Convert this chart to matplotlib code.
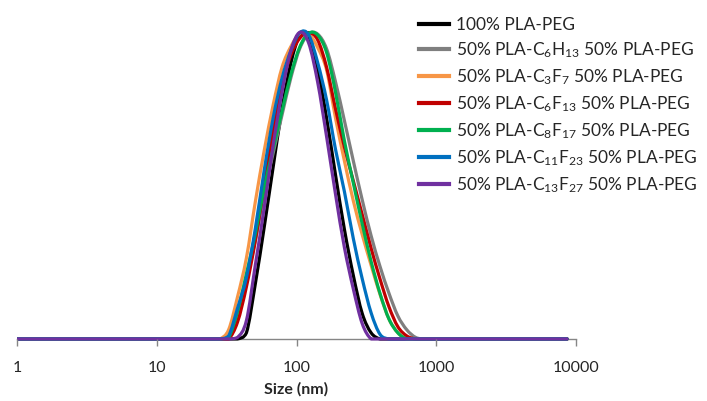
import numpy as np
import matplotlib
matplotlib.use("Agg")
import matplotlib.pyplot as plt
from matplotlib.path import Path
from matplotlib.patches import PathPatch
from matplotlib.lines import Line2D
from matplotlib.ticker import FixedLocator, FixedFormatter

plt.rcParams['font.family'] = ['Lato', 'DejaVu Sans']
plt.rcParams['mathtext.default'] = 'regular'

# DLS size classes (nm)
sizes = [0.9649, 1.117, 1.294, 1.499, 1.736, 2.010, 2.328, 2.696, 3.122, 3.615,
         4.187, 4.849, 5.615, 6.503, 7.531, 8.721, 10.10, 11.70, 13.54, 15.69,
         18.17, 21.04, 24.36, 28.21, 32.67, 37.84, 43.82, 50.75, 58.77, 68.06,
         78.82, 91.28, 105.7, 122.4, 141.8, 164.2, 190.1, 220.2, 255.0, 295.3,
         342.0, 396.1, 458.7, 531.2, 615.1, 712.4, 825.0, 955.4, 1106, 1281,
         1484, 1718, 1990, 2305, 2669, 3091, 3580, 4145, 4801, 5560,
         6439, 7456, 8635]

# normalised distribution, one list per sample (same order as sizes)
peg_100 = [0, 0, 0, 0, 0, 0, 0, 0, 0, 0,
           0, 0, 0, 0, 0, 0, 0, 0, 0, 0,
           0, 0, 0, 0, 0, 0, 0.02, 0.18, 0.365, 0.56,
           0.75, 0.90, 0.99, 0.986, 0.88, 0.719, 0.535, 0.357, 0.207, 0.083,
           0.02, 0, 0, 0, 0, 0, 0, 0, 0, 0,
           0, 0, 0, 0, 0, 0, 0, 0, 0, 0,
           0, 0, 0]
c6h13 = [0, 0, 0, 0, 0, 0, 0, 0, 0, 0,
         0, 0, 0, 0, 0, 0, 0, 0, 0, 0,
         0, 0, 0, 0, 0.005, 0.08, 0.196, 0.321, 0.475, 0.605,
         0.73, 0.852, 0.947, 0.994, 0.993, 0.945, 0.838, 0.711, 0.58, 0.453,
         0.336, 0.236, 0.149, 0.075, 0.03, 0.005, 0, 0, 0, 0,
         0, 0, 0, 0, 0, 0, 0, 0, 0, 0,
         0, 0, 0]
c3f7 = [0, 0, 0, 0, 0, 0, 0, 0, 0, 0,
        0, 0, 0, 0, 0, 0, 0, 0, 0, 0,
        0, 0, 0, 0, 0.03, 0.137, 0.264, 0.447, 0.614, 0.762,
        0.885, 0.953, 0.995, 0.994, 0.949, 0.876, 0.72, 0.58, 0.45, 0.34,
        0.24, 0.145, 0.065, 0.02, 0, 0, 0, 0, 0, 0,
        0, 0, 0, 0, 0, 0, 0, 0, 0, 0,
        0, 0, 0]
c6f13 = [0, 0, 0, 0, 0, 0, 0, 0, 0, 0,
         0, 0, 0, 0, 0, 0, 0, 0, 0, 0,
         0, 0, 0, 0, 0, 0.055, 0.17, 0.32, 0.50, 0.68,
         0.83, 0.925, 0.98, 0.998, 0.974, 0.885, 0.75, 0.625, 0.515, 0.405,
         0.295, 0.195, 0.105, 0.04, 0.01, 0, 0, 0, 0, 0,
         0, 0, 0, 0, 0, 0, 0, 0, 0, 0,
         0, 0, 0]
c8f17 = [0, 0, 0, 0, 0, 0, 0, 0, 0, 0,
         0, 0, 0, 0, 0, 0, 0, 0, 0, 0,
         0, 0, 0, 0, 0.005, 0.09, 0.212, 0.343, 0.493, 0.62,
         0.743, 0.862, 0.952, 0.996, 0.99, 0.933, 0.804, 0.645, 0.508, 0.375,
         0.252, 0.148, 0.065, 0.02, 0, 0, 0, 0, 0, 0,
         0, 0, 0, 0, 0, 0, 0, 0, 0, 0,
         0, 0, 0]
c11f23 = [0, 0, 0, 0, 0, 0, 0, 0, 0, 0,
          0, 0, 0, 0, 0, 0, 0, 0, 0, 0,
          0, 0, 0, 0, 0.01, 0.10, 0.20, 0.36, 0.55, 0.72,
          0.85, 0.94, 0.998, 0.99, 0.90, 0.778, 0.618, 0.48, 0.327, 0.196,
          0.085, 0.015, 0, 0, 0, 0, 0, 0, 0, 0,
          0, 0, 0, 0, 0, 0, 0, 0, 0, 0,
          0, 0, 0]
c13f27 = [0, 0, 0, 0, 0, 0, 0, 0, 0, 0,
          0, 0, 0, 0, 0, 0, 0, 0, 0, 0,
          0, 0, 0, 0, 0, 0.005, 0.06, 0.241, 0.428, 0.631,
          0.805, 0.94, 0.999, 0.963, 0.836, 0.659, 0.472, 0.298, 0.163, 0.05,
          0, 0, 0, 0, 0, 0, 0, 0, 0, 0,
          0, 0, 0, 0, 0, 0, 0, 0, 0, 0,
          0, 0, 0]

labels = ['100% PLA-PEG',
          '50% PLA-C$_6$H$_{13}$ 50% PLA-PEG',
          '50% PLA-C$_3$F$_7$ 50% PLA-PEG',
          '50% PLA-C$_6$F$_{13}$ 50% PLA-PEG',
          '50% PLA-C$_8$F$_{17}$ 50% PLA-PEG',
          '50% PLA-C$_{11}$F$_{23}$ 50% PLA-PEG',
          '50% PLA-C$_{13}$F$_{27}$ 50% PLA-PEG']
series = [peg_100, c6h13, c3f7, c6f13, c8f17, c11f23, c13f27]
colors = ['#000000', '#7F7F7F', '#F79646', '#C00000', '#00B050', '#0070C0', '#7030A0']

tick_vals = [1, 10, 100, 1000, 10000]
tick_text = ['1', '10', '100', '1000', '10000']


def smooth_path(x, y):
    # catmull-rom through the points in log-x space (like Excel smoothed lines)
    lx = np.log10(np.asarray(x, float))
    yy = np.asarray(y, float)
    n = len(lx)
    verts = [(x[0], yy[0])]
    codes = [Path.MOVETO]
    for i in range(n - 1):
        i0, i3 = max(i - 1, 0), min(i + 2, n - 1)
        c1x = lx[i] + (lx[i + 1] - lx[i0]) / 6
        c1y = max(yy[i] + (yy[i + 1] - yy[i0]) / 6, 0)
        c2x = lx[i + 1] - (lx[i3] - lx[i]) / 6
        c2y = max(yy[i + 1] - (yy[i3] - yy[i]) / 6, 0)
        verts += [(10 ** c1x, c1y), (10 ** c2x, c2y), (x[i + 1], yy[i + 1])]
        codes += [Path.CURVE4] * 3
    return Path(verts, codes)


fig = plt.figure(figsize=(7.07, 4.01), dpi=100)
ax = fig.add_axes([17 / 707, 0.1394, (576 - 17) / 707, 0.8115])

handles = []
for vals, col, lab in zip(series, colors, labels):
    patch = PathPatch(smooth_path(sizes, vals), fill=False, edgecolor=col,
                      lw=2.3, joinstyle='round', capstyle='round')
    ax.add_patch(patch)
    handles.append(Line2D([], [], color=col, lw=3.0, label=lab))

ax.set_xscale('log')
ax.set_xlim(1, 10000)
ax.set_ylim(-0.02, 1.04)

for s in ['top', 'right', 'left']:
    ax.spines[s].set_visible(False)
ax.spines['bottom'].set_position(('data', 0))
ax.spines['bottom'].set_color('#868686')
ax.spines['bottom'].set_linewidth(1.0)
ax.spines['bottom'].set_zorder(0)
ax.set_yticks([])

ax.xaxis.set_major_locator(FixedLocator(tick_vals))
ax.xaxis.set_major_formatter(FixedFormatter(tick_text))
ax.xaxis.set_minor_locator(FixedLocator([]))
ax.tick_params(axis='x', direction='out', length=5, width=1.0, color='#868686',
               labelsize=11.5, labelcolor='#262626', pad=11)
ax.set_xlabel('Size (nm)', fontsize=11.5, fontweight='bold', color='#262626', labelpad=5)

fig.legend(handles=handles, loc='upper left', bbox_to_anchor=(419 / 707, 1 - 17 / 401),
           frameon=False, fontsize=12.5, handlelength=1.7, handletextpad=0.45,
           labelspacing=0.42, borderpad=0, borderaxespad=0, labelcolor='#262626')

fig.savefig('out.png', dpi=100)
